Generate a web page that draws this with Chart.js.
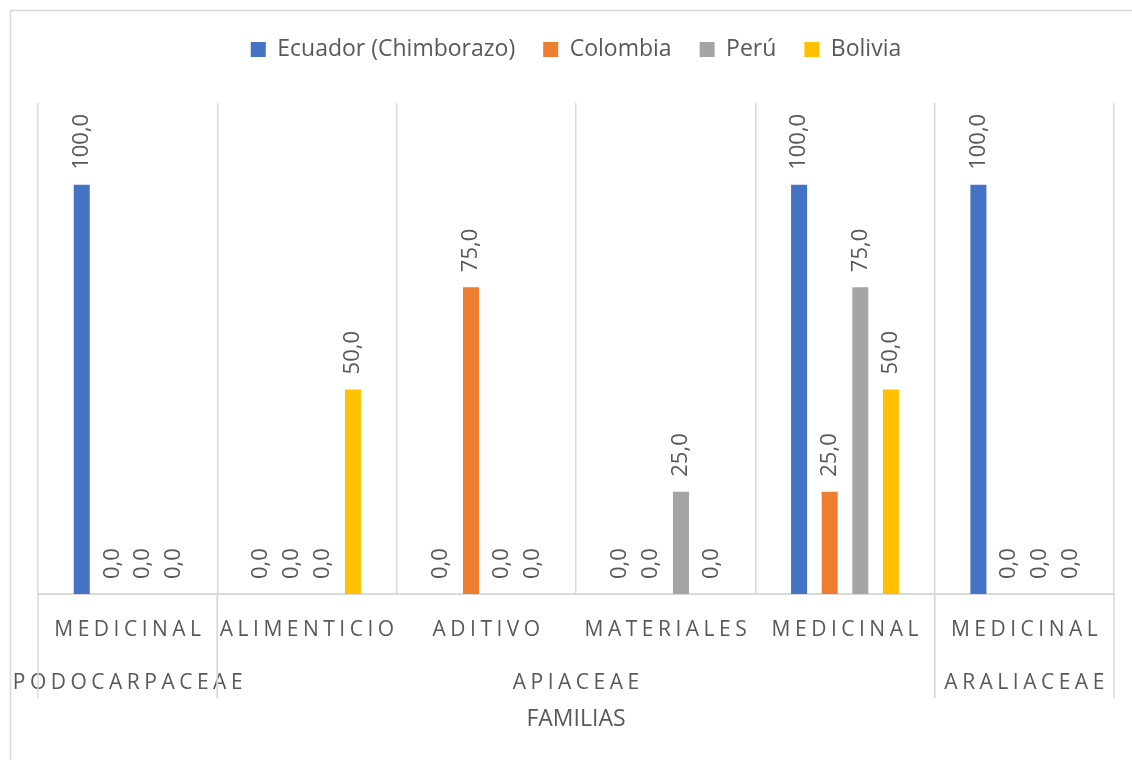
<!DOCTYPE html>
<html>
<head>
<meta charset="utf-8">
<title>Usos por familia</title>
<script src="https://cdn.jsdelivr.net/npm/chart.js@4.4.1/dist/chart.umd.min.js"></script>
<style>
  html, body { margin: 0; padding: 0; background: #ffffff; }
  #wrap { width: 1132px; height: 760px; position: relative; }
</style>
</head>
<body>
<div id="wrap"><canvas id="chart"></canvas></div>
<script>
// Uso (primer nivel) y familia botánica (segundo nivel) de cada grupo de barras
const usos = ['MEDICINAL', 'ALIMENTICIO', 'ADITIVO', 'MATERIALES', 'MEDICINAL', 'MEDICINAL'];
const familias = ['PODOCARPACEAE', 'APIACEAE', 'APIACEAE', 'APIACEAE', 'APIACEAE', 'ARALIACEAE'];
const tituloEje = 'FAMILIAS';

// Porcentajes por país
const ecuador = [100, 0, 0, 0, 100, 100];
const colombia = [0, 0, 75, 0, 25, 0];
const peru = [0, 0, 0, 25, 75, 0];
const bolivia = [0, 50, 0, 0, 50, 0];

const paises = ['Ecuador (Chimborazo)', 'Colombia', 'Perú', 'Bolivia'];
const colores = ['#4472C4', '#ED7D31', '#A5A5A5', '#FFC000'];

const FONT = '"Open Sans", "Liberation Sans", sans-serif';
const TEXT = '#595959';
const GRID = '#d9d9d9';

// Marco exterior del gráfico
const marco = {
  id: 'marco',
  beforeDraw(chart) {
    const ctx = chart.ctx;
    ctx.save();
    ctx.strokeStyle = GRID;
    ctx.lineWidth = 1.5;
    ctx.strokeRect(10.5, 10.5, 1300, 900);
    ctx.restore();
  }
};

// Espacio extra entre la leyenda y el área de trazado
const espacioLeyenda = {
  id: 'espacioLeyenda',
  beforeLayout(chart) {
    const leg = chart.legend;
    if (leg && !leg._conEspacio) {
      const fitOriginal = leg.fit.bind(leg);
      leg.fit = function () {
        fitOriginal();
        this.height += 32;
      };
      leg._conEspacio = true;
    }
  }
};

// Etiquetas de valor giradas sobre cada barra
const etiquetasValor = {
  id: 'etiquetasValor',
  afterDatasetsDraw(chart) {
    const ctx = chart.ctx;
    ctx.save();
    ctx.font = '22px ' + FONT;
    ctx.fillStyle = TEXT;
    ctx.textAlign = 'left';
    ctx.textBaseline = 'middle';
    chart.data.datasets.forEach((ds, i) => {
      const meta = chart.getDatasetMeta(i);
      meta.data.forEach((bar, j) => {
        const v = ds.data[j];
        const txt = v.toFixed(1).replace('.', ',');
        ctx.save();
        ctx.translate(bar.x, bar.y - 15);
        ctx.rotate(-Math.PI / 2);
        ctx.fillText(txt, 0, 0);
        ctx.restore();
      });
    });
    ctx.restore();
  }
};

// Eje de categorías en dos niveles: uso y familia
const ejeMultinivel = {
  id: 'ejeMultinivel',
  afterDraw(chart) {
    const ctx = chart.ctx;
    const x = chart.scales.x;
    const base = chart.chartArea.bottom;
    const ancho = x.getPixelForValue(1) - x.getPixelForValue(0);
    const tracking = 4.5;
    ctx.save();
    ctx.fillStyle = TEXT;
    ctx.textAlign = 'center';
    ctx.textBaseline = 'middle';
    ctx.font = '21px ' + FONT;
    ctx.letterSpacing = tracking + 'px';
    usos.forEach((u, i) => {
      ctx.fillText(u, x.getPixelForValue(i) + tracking / 2, base + 36);
    });
    // grupos de familias contiguas
    const grupos = [];
    familias.forEach((f, i) => {
      const g = grupos[grupos.length - 1];
      if (g && g.nombre === f) g.fin = i; else grupos.push({ nombre: f, ini: i, fin: i });
    });
    ctx.strokeStyle = GRID;
    ctx.lineWidth = 1.5;
    grupos.forEach(g => {
      const izq = x.getPixelForValue(g.ini) - ancho / 2;
      const der = x.getPixelForValue(g.fin) + ancho / 2;
      ctx.fillText(g.nombre, (izq + der) / 2 + tracking / 2, base + 89);
      [izq, der].forEach(px => {
        ctx.beginPath();
        ctx.moveTo(px, base);
        ctx.lineTo(px, base + 104);
        ctx.stroke();
      });
    });
    ctx.letterSpacing = '0px';
    ctx.font = '23px ' + FONT;
    ctx.fillText(tituloEje, (chart.chartArea.left + chart.chartArea.right) / 2, base + 125);
    ctx.restore();
  }
};

new Chart(document.getElementById('chart'), {
  type: 'bar',
  data: {
    labels: usos,
    datasets: [ecuador, colombia, peru, bolivia].map((d, i) => ({
      label: paises[i],
      data: d,
      backgroundColor: colores[i],
      borderWidth: 0,
      categoryPercentage: 0.683,
      barPercentage: 0.523
    }))
  },
  options: {
    responsive: true,
    maintainAspectRatio: false,
    animation: false,
    layout: { padding: { left: 38, right: 18, top: 10, bottom: 166 } },
    plugins: {
      tooltip: { enabled: false },
      legend: {
        position: 'top',
        labels: {
          font: { family: FONT, size: 23 },
          color: TEXT,
          boxWidth: 15,
          boxHeight: 15,
          padding: 28
        }
      }
    },
    scales: {
      x: {
        grid: { offset: true, color: GRID, drawTicks: false, lineWidth: 1.5 },
        border: { color: GRID, width: 2 },
        ticks: { display: false }
      },
      y: {
        display: false,
        min: 0,
        max: 120
      }
    }
  },
  plugins: [marco, espacioLeyenda, etiquetasValor, ejeMultinivel]
});
</script>
</body>
</html>
